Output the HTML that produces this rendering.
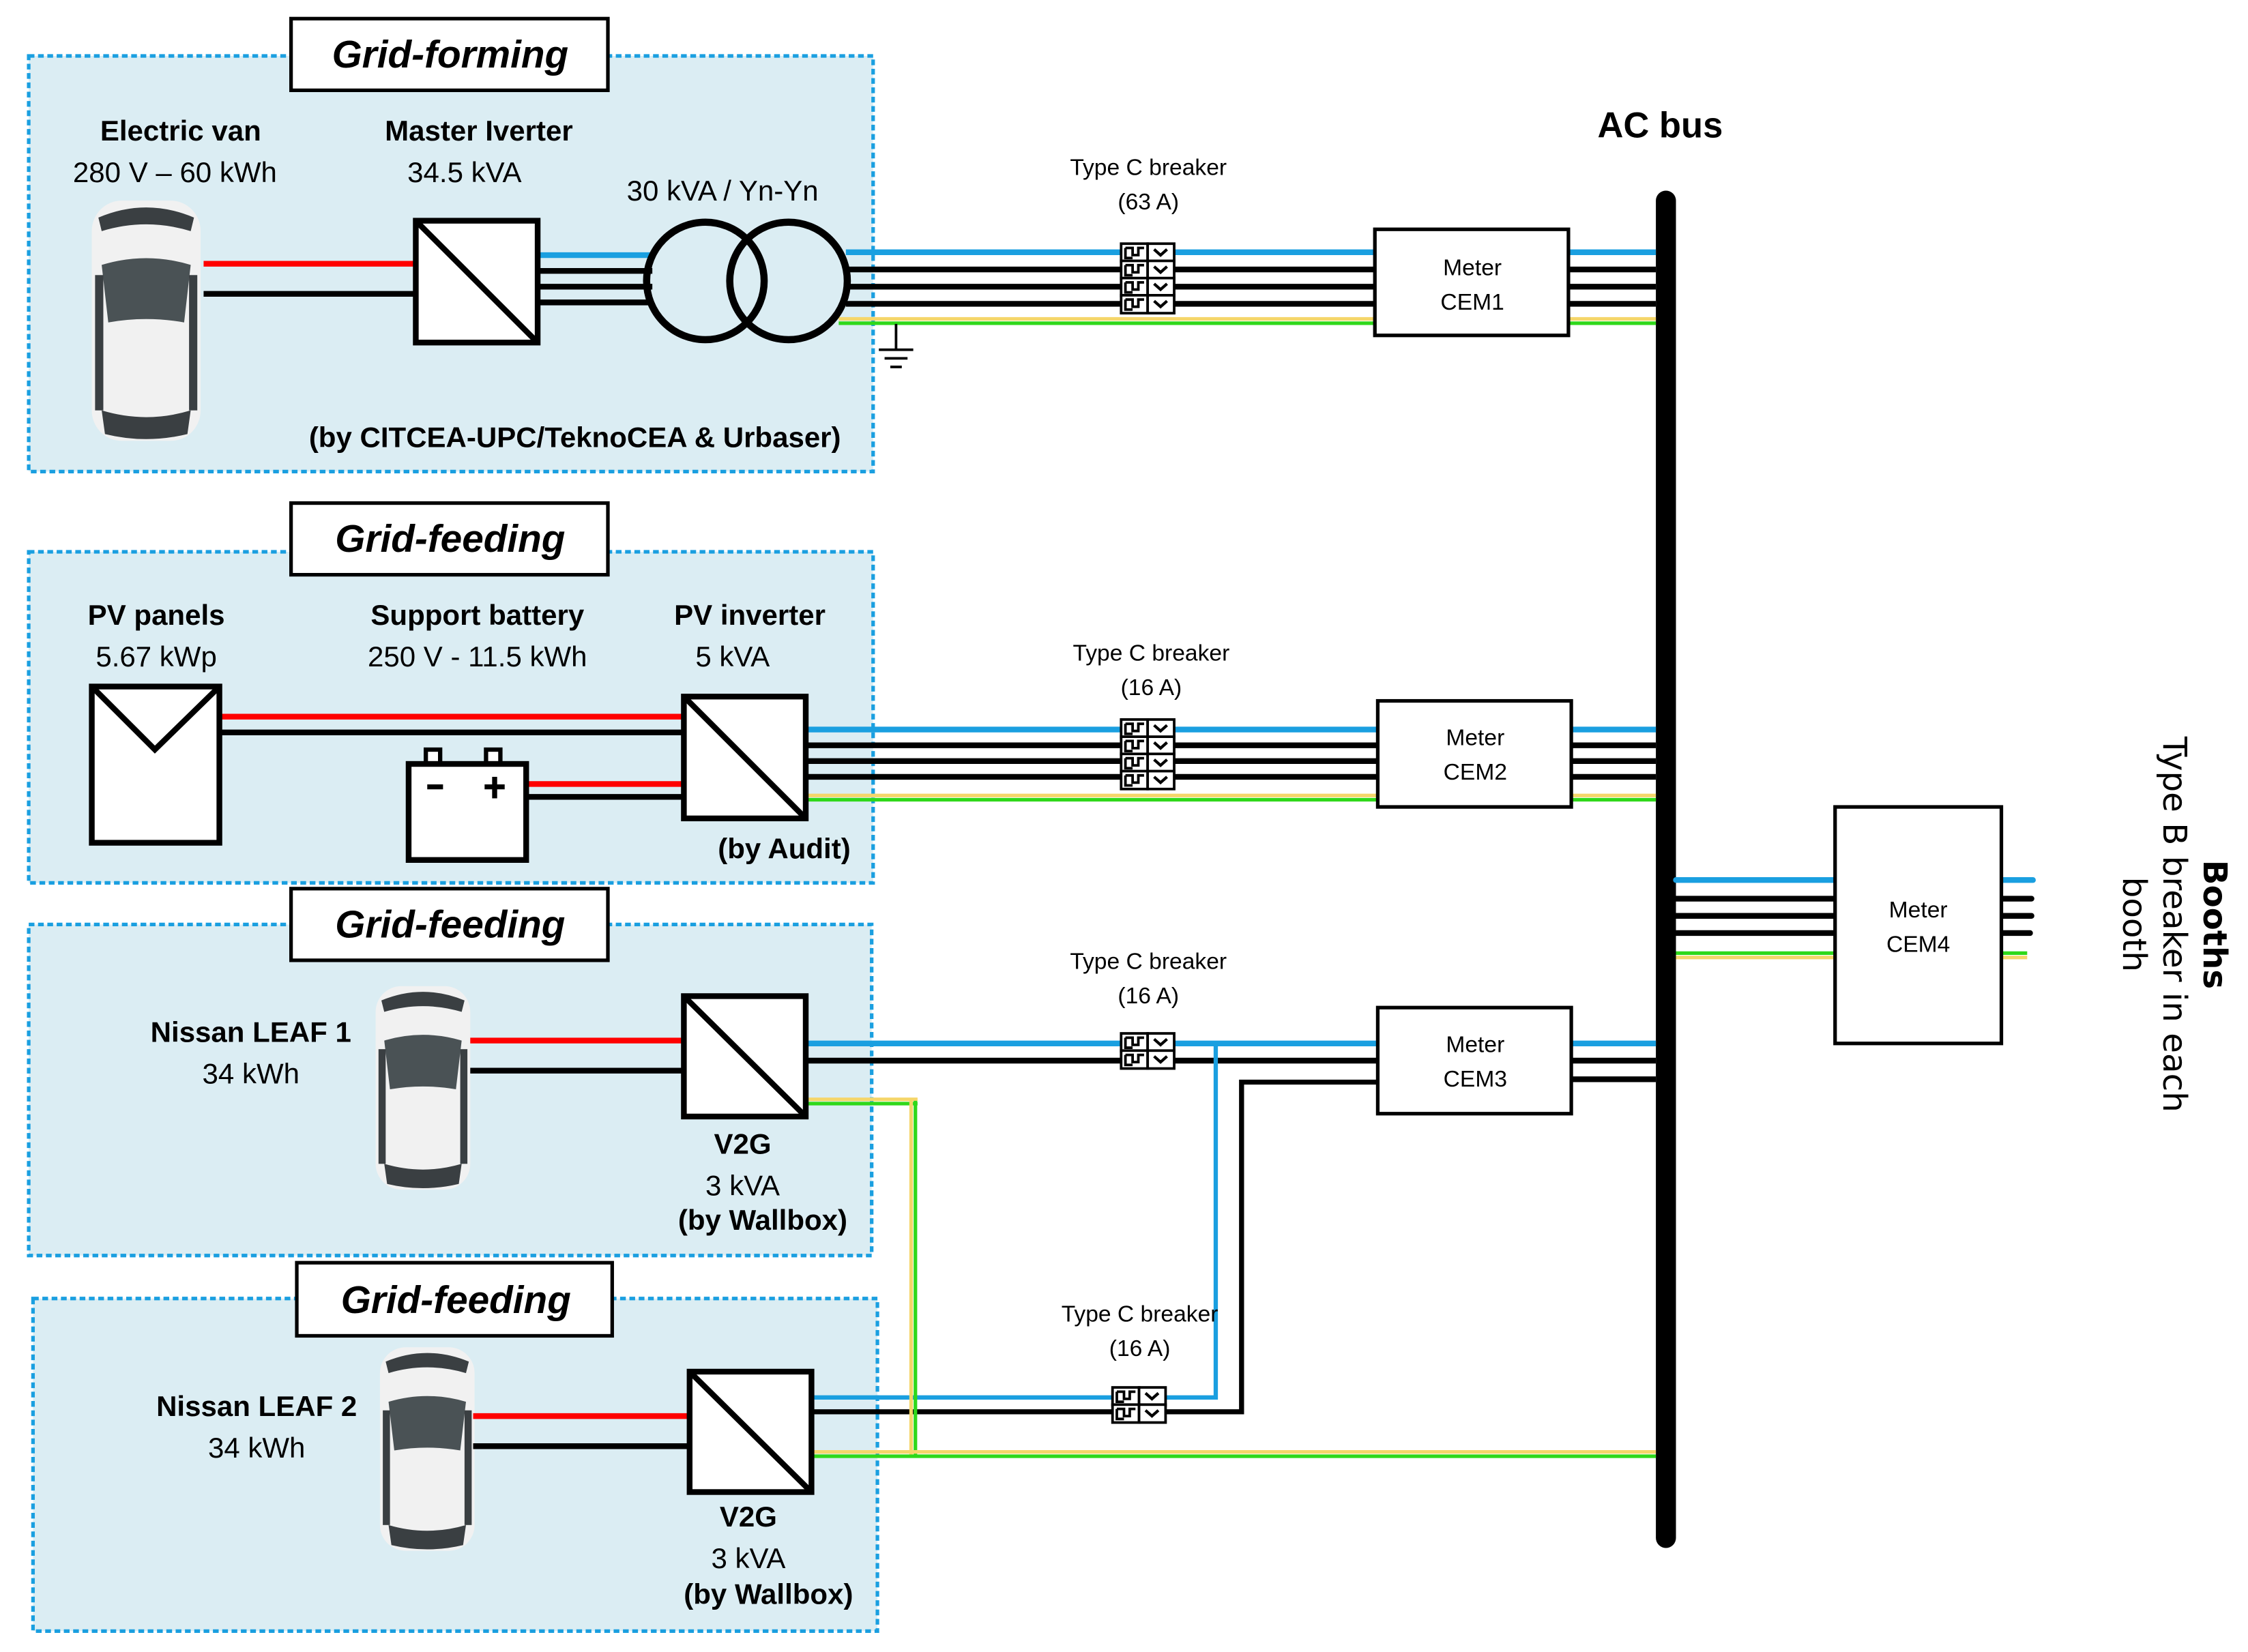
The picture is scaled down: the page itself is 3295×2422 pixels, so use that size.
<!DOCTYPE html>
<html><head><meta charset="utf-8"><style>
html,body{margin:0;padding:0;background:#fff}
svg{display:block}
text{font-family:"Liberation Sans",sans-serif;fill:#000}
.h{font-weight:bold;font-size:20px}
.n{font-size:20px}
.t{font-weight:bold;font-style:italic;font-size:27px}
.s{font-size:16px}
</style></head><body>
<svg width="3295" height="2422" viewBox="0 0 1568 1152.6" xmlns="http://www.w3.org/2000/svg">
<defs>
<g id="car">
 <rect x="0" y="0" width="66" height="142" rx="18" fill="#f1f1f1"/>
 <path d="M4 10 Q33 -2 62 10 L60 18 Q33 10 6 18Z" fill="#3a3f42"/>
 <path d="M6 38 Q33 30 60 38 L56 72 Q33 68 10 72Z" fill="#4a5255"/>
 <rect x="2" y="44" width="5" height="80" fill="#3a3f42"/>
 <rect x="59" y="44" width="5" height="80" fill="#3a3f42"/>
 <path d="M6 124 Q33 132 60 124 L58 138 Q33 144 8 138Z" fill="#3a3f42"/>
</g>
<g id="bc">
 <rect x="0" y="0" width="18.5" height="12.5" fill="#fff" stroke="#000" stroke-width="1.8"/>
 <rect x="18.5" y="0" width="18.5" height="12.5" fill="#fff" stroke="#000" stroke-width="1.8"/>
 <path d="M3 3 H8 V8 H12 V3 H16 M3 3 V10 H8" fill="none" stroke="#000" stroke-width="1.8"/>
 <path d="M23 4 L27.5 8 L32 4" fill="none" stroke="#000" stroke-width="2"/>
</g>
</defs>

<!-- Boxes -->
<g fill="#dbedf3" stroke="#1a9fe0" stroke-width="2.5" stroke-dasharray="4,2.5">
 <rect x="20" y="39" width="589" height="290"/>
 <rect x="20" y="385" width="589" height="231"/>
 <rect x="20" y="645" width="588" height="231"/>
 <rect x="23" y="906" width="589" height="232"/>
</g>
<g fill="#fff" stroke="#000" stroke-width="2.5">
 <rect x="203" y="13" width="221" height="50"/>
 <rect x="203" y="351" width="221" height="50"/>
 <rect x="203" y="620" width="221" height="50"/>
 <rect x="207" y="881" width="220" height="51"/>
</g>
<g class="t" text-anchor="middle">
 <text x="314" y="47">Grid-forming</text>
 <text x="314" y="385">Grid-feeding</text>
 <text x="314" y="654">Grid-feeding</text>
 <text x="318" y="916">Grid-feeding</text>
</g>

<!-- AC bus -->
<rect x="1155" y="133" width="14" height="947" rx="7" fill="#000"/>
<text x="1158" y="96" text-anchor="middle" style="font-weight:bold;font-size:25px">AC bus</text>

<!-- Row 1 -->
<use href="#car" transform="translate(64,140) scale(1.15,1.18)"/>
<text class="h" x="126" y="98" text-anchor="middle">Electric van</text>
<text class="n" x="122" y="127" text-anchor="middle">280 V – 60 kWh</text>
<text class="h" x="334" y="98" text-anchor="middle">Master Iverter</text>
<text class="n" x="324" y="127" text-anchor="middle">34.5 kVA</text>
<text class="n" x="504" y="140" text-anchor="middle">30 kVA / Yn-Yn</text>
<text class="h" x="401" y="312" text-anchor="middle">(by CITCEA-UPC/TeknoCEA &amp; Urbaser)</text>
<line x1="142" y1="184" x2="290" y2="184" stroke="#f00" stroke-width="4"/>
<line x1="142" y1="205" x2="290" y2="205" stroke="#000" stroke-width="4"/>
<g stroke-width="4">
<line x1="375" y1="178" x2="455" y2="178" stroke="#1a9fe0"/>
<line x1="375" y1="189" x2="455" y2="189" stroke="#000"/>
<line x1="375" y1="200" x2="455" y2="200" stroke="#000"/>
<line x1="375" y1="211" x2="455" y2="211" stroke="#000"/>
<line x1="590" y1="176" x2="1155" y2="176" stroke="#1a9fe0"/>
<line x1="590" y1="188" x2="1155" y2="188" stroke="#000"/>
<line x1="590" y1="200" x2="1155" y2="200" stroke="#000"/>
<line x1="590" y1="212" x2="1155" y2="212" stroke="#000"/>
</g>
<line x1="585" y1="222.5" x2="1155" y2="222.5" stroke="#f5d66a" stroke-width="2.5"/>
<line x1="585" y1="225.5" x2="1155" y2="225.5" stroke="#2fd81a" stroke-width="2.5"/>
<rect x="290" y="154" width="85" height="85" fill="#fff" stroke="#000" stroke-width="4"/>
<line x1="290" y1="154" x2="375" y2="239" stroke="#000" stroke-width="4"/>
<circle cx="492" cy="196" r="41" fill="none" stroke="#000" stroke-width="5"/>
<circle cx="550" cy="196" r="41" fill="none" stroke="#000" stroke-width="5"/>
<g stroke="#000" stroke-width="1.8">
<line x1="625" y1="226" x2="625" y2="244"/>
<line x1="613" y1="244" x2="637" y2="244"/>
<line x1="617" y1="250" x2="633" y2="250"/>
<line x1="621" y1="256" x2="629" y2="256"/>
</g>
<text class="s" x="801" y="122" text-anchor="middle">Type C breaker</text>
<text class="s" x="801" y="146" text-anchor="middle">(63 A)</text>
<rect x="782" y="170" width="37" height="48" fill="#000"/>
<use href="#bc" transform="translate(782,170)"/>
<use href="#bc" transform="translate(782,182)"/>
<use href="#bc" transform="translate(782,194)"/>
<use href="#bc" transform="translate(782,206)"/>
<rect x="959" y="160" width="135" height="74" fill="#fff" stroke="#000" stroke-width="2.5"/>
<text class="s" x="1027" y="192" text-anchor="middle">Meter</text>
<text class="s" x="1027" y="216" text-anchor="middle">CEM1</text>

<!-- Row 2 -->
<text class="h" x="109" y="436" text-anchor="middle">PV panels</text>
<text class="n" x="109" y="465" text-anchor="middle">5.67 kWp</text>
<text class="h" x="333" y="436" text-anchor="middle">Support battery</text>
<text class="n" x="333" y="465" text-anchor="middle">250 V - 11.5 kWh</text>
<text class="h" x="523" y="436" text-anchor="middle">PV inverter</text>
<text class="n" x="511" y="465" text-anchor="middle">5 kVA</text>
<text class="h" x="547" y="599" text-anchor="middle">(by Audit)</text>
<line x1="153" y1="500" x2="477" y2="500" stroke="#f00" stroke-width="4"/>
<line x1="153" y1="511" x2="477" y2="511" stroke="#000" stroke-width="4"/>
<line x1="366" y1="547" x2="477" y2="547" stroke="#f00" stroke-width="4"/>
<line x1="366" y1="556" x2="477" y2="556" stroke="#000" stroke-width="4"/>
<rect x="64" y="479" width="89" height="109" fill="#fff" stroke="#000" stroke-width="4"/>
<polyline points="66,481 108,523 151,481" fill="none" stroke="#000" stroke-width="4"/>
<rect x="297" y="523" width="10" height="12" fill="#fff" stroke="#000" stroke-width="3"/>
<rect x="339" y="523" width="10" height="12" fill="#fff" stroke="#000" stroke-width="3"/>
<rect x="285" y="533" width="82" height="67" fill="#fff" stroke="#000" stroke-width="4"/>
<line x1="298" y1="549" x2="309" y2="549" stroke="#000" stroke-width="3.5"/>
<line x1="338" y1="549" x2="352" y2="549" stroke="#000" stroke-width="3.5"/>
<line x1="345" y1="542" x2="345" y2="557" stroke="#000" stroke-width="3.5"/>
<g stroke-width="4">
<line x1="562" y1="509" x2="1155" y2="509" stroke="#1a9fe0"/>
<line x1="562" y1="520" x2="1155" y2="520" stroke="#000"/>
<line x1="562" y1="531" x2="1155" y2="531" stroke="#000"/>
<line x1="562" y1="542" x2="1155" y2="542" stroke="#000"/>
</g>
<line x1="562" y1="555" x2="1155" y2="555" stroke="#f5d66a" stroke-width="2.5"/>
<line x1="562" y1="558" x2="1155" y2="558" stroke="#2fd81a" stroke-width="2.5"/>
<rect x="477" y="486" width="85" height="85" fill="#fff" stroke="#000" stroke-width="4"/>
<line x1="477" y1="486" x2="562" y2="571" stroke="#000" stroke-width="4"/>
<text class="s" x="803" y="461" text-anchor="middle">Type C breaker</text>
<text class="s" x="803" y="485" text-anchor="middle">(16 A)</text>
<rect x="782" y="502" width="37" height="48" fill="#000"/>
<use href="#bc" transform="translate(782,502)"/>
<use href="#bc" transform="translate(782,514)"/>
<use href="#bc" transform="translate(782,526)"/>
<use href="#bc" transform="translate(782,538)"/>
<rect x="961" y="489" width="135" height="74" fill="#fff" stroke="#000" stroke-width="2.5"/>
<text class="s" x="1029" y="520" text-anchor="middle">Meter</text>
<text class="s" x="1029" y="544" text-anchor="middle">CEM2</text>

<!-- Row 3 & 4 wiring -->
<g fill="none" stroke-width="4">
<line x1="562" y1="728" x2="961" y2="728" stroke="#1a9fe0"/>
<line x1="562" y1="740" x2="961" y2="740" stroke="#000"/>
<polyline points="848,728 848,975 566,975" stroke="#1a9fe0" stroke-width="3"/>
<polyline points="961,755 866,755 866,985 566,985" stroke="#000" stroke-width="3.5"/>
<line x1="1096" y1="728" x2="1155" y2="728" stroke="#1a9fe0"/>
<line x1="1096" y1="740" x2="1155" y2="740" stroke="#000"/>
<line x1="1096" y1="753" x2="1155" y2="753" stroke="#000"/>
</g>
<line x1="562" y1="767" x2="640" y2="767" stroke="#f5d66a" stroke-width="2.5"/>
<line x1="562" y1="770" x2="640" y2="770" stroke="#2fd81a" stroke-width="2.5"/>
<line x1="635.5" y1="768" x2="635.5" y2="1016" stroke="#f5d66a" stroke-width="2.5"/>
<line x1="638.5" y1="768" x2="638.5" y2="1016" stroke="#2fd81a" stroke-width="2.5"/>
<line x1="566" y1="1013" x2="1155" y2="1013" stroke="#f5d66a" stroke-width="2.5"/>
<line x1="566" y1="1016" x2="1155" y2="1016" stroke="#2fd81a" stroke-width="2.5"/>

<use href="#car" transform="translate(262,688)"/>
<text class="h" x="175" y="727" text-anchor="middle">Nissan LEAF 1</text>
<text class="n" x="175" y="756" text-anchor="middle">34 kWh</text>
<line x1="328" y1="726" x2="477" y2="726" stroke="#f00" stroke-width="4"/>
<line x1="328" y1="747" x2="477" y2="747" stroke="#000" stroke-width="4"/>
<rect x="477" y="695" width="85" height="84" fill="#fff" stroke="#000" stroke-width="4"/>
<line x1="477" y1="695" x2="562" y2="779" stroke="#000" stroke-width="4"/>
<text class="h" x="518" y="805" text-anchor="middle">V2G</text>
<text class="n" x="518" y="834" text-anchor="middle">3 kVA</text>
<text class="h" x="532" y="858" text-anchor="middle">(by Wallbox)</text>
<text class="s" x="801" y="676" text-anchor="middle">Type C breaker</text>
<text class="s" x="801" y="700" text-anchor="middle">(16 A)</text>
<rect x="782" y="721" width="37" height="25" fill="#000"/>
<use href="#bc" transform="translate(782,721)"/>
<use href="#bc" transform="translate(782,733)"/>
<rect x="961" y="703" width="135" height="74" fill="#fff" stroke="#000" stroke-width="2.5"/>
<text class="s" x="1029" y="734" text-anchor="middle">Meter</text>
<text class="s" x="1029" y="758" text-anchor="middle">CEM3</text>

<use href="#car" transform="translate(265,940)"/>
<text class="h" x="179" y="988" text-anchor="middle">Nissan LEAF 2</text>
<text class="n" x="179" y="1017" text-anchor="middle">34 kWh</text>
<line x1="330" y1="988" x2="481" y2="988" stroke="#f00" stroke-width="4"/>
<line x1="330" y1="1009" x2="481" y2="1009" stroke="#000" stroke-width="4"/>
<rect x="481" y="957" width="85" height="84" fill="#fff" stroke="#000" stroke-width="4"/>
<line x1="481" y1="957" x2="566" y2="1041" stroke="#000" stroke-width="4"/>
<text class="h" x="522" y="1065" text-anchor="middle">V2G</text>
<text class="n" x="522" y="1094" text-anchor="middle">3 kVA</text>
<text class="h" x="536" y="1119" text-anchor="middle">(by Wallbox)</text>
<text class="s" x="795" y="922" text-anchor="middle">Type C breaker</text>
<text class="s" x="795" y="946" text-anchor="middle">(16 A)</text>
<rect x="776" y="968" width="37" height="25" fill="#000"/>
<use href="#bc" transform="translate(776,968)"/>
<use href="#bc" transform="translate(776,980)"/>

<!-- Meter 4 -->
<g stroke-width="4" stroke-linecap="round">
<line x1="1169" y1="614" x2="1418" y2="614" stroke="#1a9fe0"/>
<line x1="1169" y1="627" x2="1417" y2="627" stroke="#000"/>
<line x1="1169" y1="639" x2="1417" y2="639" stroke="#000"/>
<line x1="1169" y1="651" x2="1416" y2="651" stroke="#000"/>
</g>
<line x1="1169" y1="665" x2="1414" y2="665" stroke="#2fd81a" stroke-width="2.5"/>
<line x1="1169" y1="668" x2="1414" y2="668" stroke="#f5d66a" stroke-width="2.5"/>
<rect x="1280" y="563" width="116" height="165" fill="#fff" stroke="#000" stroke-width="2.5"/>
<text class="s" x="1338" y="640" text-anchor="middle">Meter</text>
<text class="s" x="1338" y="664" text-anchor="middle">CEM4</text>
<g transform="translate(1507,645) rotate(90)">
 <text x="0" y="-30" text-anchor="middle" style="font-family:'DejaVu Sans',sans-serif;font-weight:bold;font-size:23px">Booths</text>
 <text x="0" y="-2" text-anchor="middle" style="font-family:'DejaVu Sans',sans-serif;font-size:23px">Type B breaker in each</text>
 <text x="0" y="26" text-anchor="middle" style="font-family:'DejaVu Sans',sans-serif;font-size:23px">booth</text>
</g>
</svg>
</body></html>
